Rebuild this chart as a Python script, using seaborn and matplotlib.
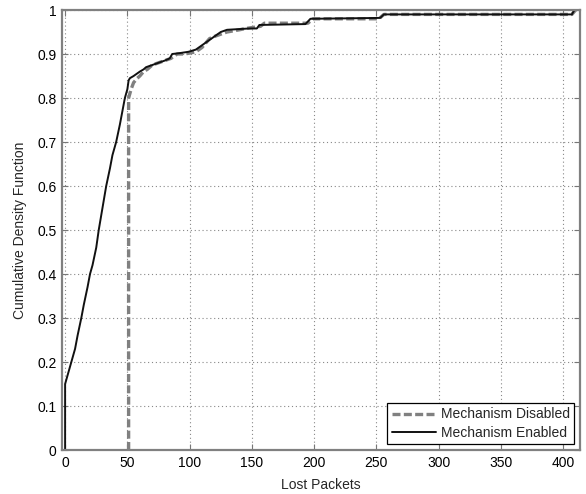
import numpy as np
import pandas as pd
import matplotlib
matplotlib.use("Agg")
import matplotlib.pyplot as plt
import seaborn as sns

# Mechanism Enabled CDF vertices (Lost Packets, CDF)
enabled_x = [0, 0, 1, 3, 5, 8, 10, 13, 15, 18, 20, 22, 25, 27, 30, 33, 36, 38, 41, 44, 46,
             48, 50, 51, 52, 55, 60, 63, 65, 70, 75, 80, 84, 86, 92, 99, 105, 110, 115, 120,
             125, 130, 148, 154, 156, 193, 197, 253, 256, 407, 409, 411]
enabled_y = [0, 0.15, 0.16, 0.18, 0.20, 0.23, 0.26, 0.30, 0.33, 0.37, 0.40, 0.42, 0.46, 0.50,
             0.55, 0.60, 0.64, 0.67, 0.70, 0.74, 0.77, 0.80, 0.82, 0.84, 0.845, 0.85, 0.86,
             0.865, 0.87, 0.875, 0.88, 0.885, 0.89, 0.90, 0.902, 0.905, 0.91, 0.92, 0.93, 0.94,
             0.95, 0.955, 0.958, 0.958, 0.966, 0.968, 0.98, 0.982, 0.99, 0.99, 1.0, 1.0]

# Mechanism Disabled CDF vertices
disabled_x = [51, 51, 52, 53, 55, 58, 60, 63, 66, 70, 75, 80, 85, 90, 95, 100, 105, 110, 116,
              120, 125, 130, 140, 145, 150, 157, 160, 195, 199, 252, 256, 407, 410]
disabled_y = [0, 0.80, 0.81, 0.82, 0.835, 0.845, 0.85, 0.86, 0.865, 0.875, 0.88, 0.885, 0.89,
              0.90, 0.90, 0.902, 0.905, 0.915, 0.935, 0.94, 0.945, 0.95, 0.955, 0.958, 0.96,
              0.963, 0.97, 0.97, 0.98, 0.98, 0.99, 0.99, 1.0]

x_ticks = [0, 50, 100, 150, 200, 250, 300, 350, 400]
y_ticks = [0, 0.1, 0.2, 0.3, 0.4, 0.5, 0.6, 0.7, 0.8, 0.9, 1]
y_tick_labels = ["0", "0.1", "0.2", "0.3", "0.4", "0.5", "0.6", "0.7", "0.8", "0.9", "1"]

sns.set_style("white")
plt.rcParams["font.family"] = ["Liberation Sans", "DejaVu Sans"]

df_dis = pd.DataFrame({"x": disabled_x, "y": disabled_y})
df_en = pd.DataFrame({"x": enabled_x, "y": enabled_y})

fig = plt.figure(figsize=(5.86, 4.94), dpi=100)
ax = fig.add_axes([62 / 586, 44 / 494, (580 - 62) / 586, (450 - 10) / 494])

sns.lineplot(data=df_dis, x="x", y="y", ax=ax, sort=False, estimator=None,
             color="#808080", linestyle=(0, (2.4, 1.0)), linewidth=2.4,
             label="Mechanism Disabled")
sns.lineplot(data=df_en, x="x", y="y", ax=ax, sort=False, estimator=None,
             color="#111111", linewidth=1.4, label="Mechanism Enabled")

ax.set_xlim(-2.5, 413.5)
ax.set_ylim(0, 1)
ax.set_xticks(x_ticks)
ax.set_xticklabels([str(t) for t in x_ticks])
ax.set_yticks(y_ticks)
ax.set_yticklabels(y_tick_labels)
ax.grid(True, linestyle=(0, (1, 2.5)), color="#888888", linewidth=0.8)
ax.tick_params(direction="in", length=4, width=0.8, colors="#777777",
               labelcolor="black", labelsize=10, top=True, right=True,
               bottom=True, left=True, pad=4)
for s in ax.spines.values():
    s.set_visible(True)
    s.set_color("#808080")
    s.set_linewidth(1.6)

ax.set_xlabel("Lost Packets", fontsize=10, labelpad=6)
ax.set_ylabel("Cumulative Density Function", fontsize=10, labelpad=7)

leg = ax.legend(loc="lower right", fontsize=10, frameon=True, fancybox=False,
                edgecolor="black", framealpha=1, borderpad=0.35, handlelength=3.2,
                handletextpad=0.3, labelspacing=0.3, borderaxespad=0.4)
leg.get_frame().set_linewidth(0.9)

fig.savefig("out.png", dpi=100)
